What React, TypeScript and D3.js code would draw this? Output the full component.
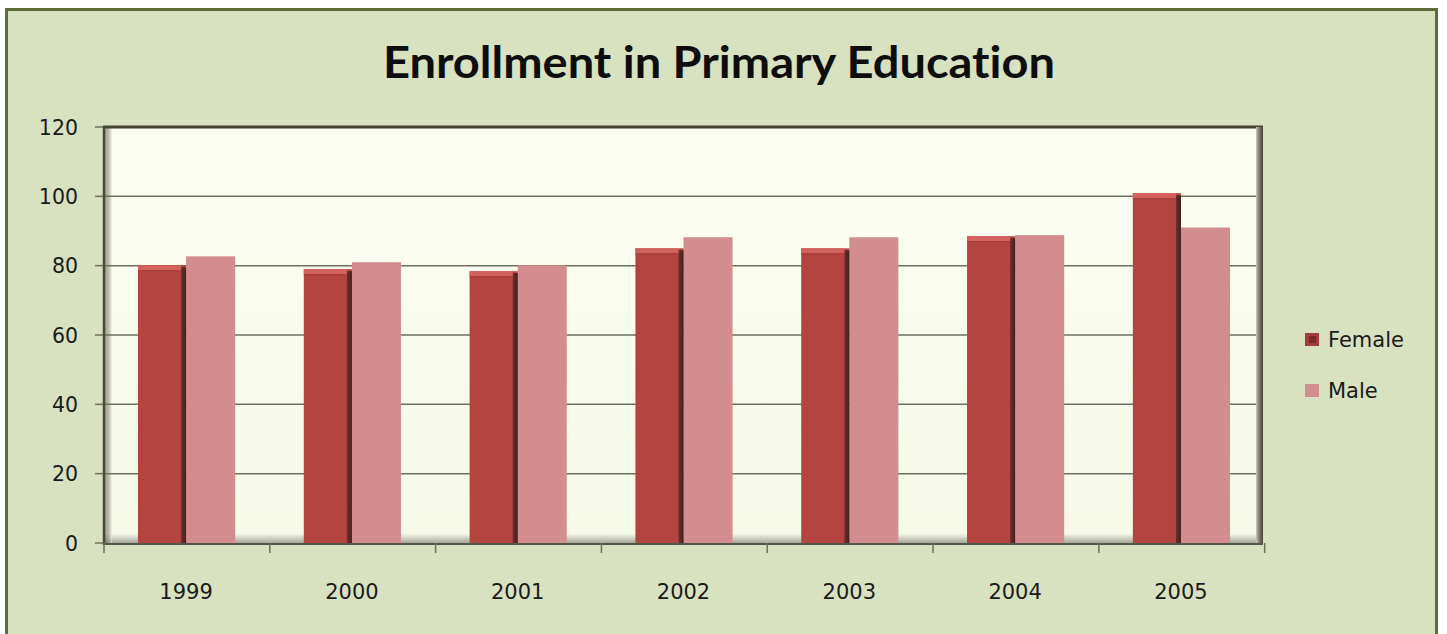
import React from "react";
import * as d3 from "d3";

const years = ["1999", "2000", "2001", "2002", "2003", "2004", "2005"];
const female = [80.1, 79.0, 78.4, 85.0, 85.0, 88.5, 100.9];
const male = [82.7, 81.0, 80.1, 88.2, 88.2, 88.8, 91.0];
const seriesNames = ["Female", "Male"];
const yTicks = [0, 20, 40, 60, 80, 100, 120];
const title = "Enrollment in Primary Education";

const W = 1447;
const H = 634;
const plot = { left: 104, right: 1263, top: 127, bottom: 543 };

export default function App() {
  const x0 = d3
    .scaleBand<string>()
    .domain(years)
    .range([plot.left, plot.right])
    .paddingInner(0.42)
    .paddingOuter(0.205);
  const x1 = d3.scaleBand<string>().domain(seriesNames).range([0, x0.bandwidth()]).padding(0);
  const y = d3.scaleLinear().domain([0, 120]).range([plot.bottom, plot.top]);
  const step = x0.step();
  const boundaries = d3.range(years.length + 1).map((i) => plot.left + i * step);
  const font = "'DejaVu Sans', Verdana, sans-serif";

  return (
    <svg width={W} height={H} style={{ position: "absolute", left: 0, top: 0 }}>
      <defs>
        <linearGradient id="plotBg" x1="0" y1="0" x2="0" y2="1">
          <stop offset="0" stopColor="#fdfef3" />
          <stop offset="1" stopColor="#f5f9e6" />
        </linearGradient>
        <linearGradient id="floor" x1="0" y1="0" x2="0" y2="1">
          <stop offset="0" stopColor="#f4f6ea" />
          <stop offset="1" stopColor="#a3a796" />
        </linearGradient>
        <linearGradient id="rightWall" x1="0" y1="0" x2="1" y2="0">
          <stop offset="0" stopColor="#c9c9c0" />
          <stop offset="0.5" stopColor="#7a766a" />
          <stop offset="1" stopColor="#4a4436" />
        </linearGradient>
        <linearGradient id="leftWall" x1="0" y1="0" x2="1" y2="0">
          <stop offset="0" stopColor="#4a4a36" />
          <stop offset="0.6" stopColor="#8a8c7c" />
          <stop offset="1" stopColor="#eef2dd" />
        </linearGradient>
        <linearGradient id="femaleSide" x1="0" y1="0" x2="1" y2="0">
          <stop offset="0" stopColor="#6e2f2c" />
          <stop offset="1" stopColor="#3e2220" />
        </linearGradient>
      </defs>

      <rect x={0} y={0} width={W} height={H} fill="#ffffff" />
      <rect x={6.5} y={9.5} width={1430} height={640} fill="#d8e2c0" stroke="#5e6e3a" strokeWidth={3} />

      <text
        x={719}
        y={78}
        textAnchor="middle"
        fontFamily="Lato, 'Open Sans', sans-serif"
        fontWeight={700}
        fontSize={44}
        fill="#0d0d0d"
        textLength={672}
        lengthAdjust="spacingAndGlyphs"
        style={{ fontVariantLigatures: "none", fontKerning: "normal" }}
      >
        {title}
      </text>

      {/* plot area */}
      <rect x={plot.left} y={plot.top} width={plot.right - plot.left} height={plot.bottom - plot.top} fill="url(#plotBg)" />
      <rect x={plot.left} y={plot.bottom - 9} width={plot.right - plot.left} height={9} fill="url(#floor)" />
      <rect x={plot.left} y={plot.top} width={8} height={plot.bottom - plot.top} fill="url(#leftWall)" opacity={0.55} />

      {/* gridlines and y ticks */}
      {yTicks.map((t) => (
        <g key={t}>
          {t > 0 && t < 120 && (
            <line x1={plot.left} x2={plot.right - 6} y1={y(t)} y2={y(t)} stroke="#6c715c" strokeWidth={1.5} />
          )}
          <line x1={95} x2={plot.left} y1={y(t)} y2={y(t)} stroke="#6c715c" strokeWidth={1.5} />
          <text x={78} y={y(t) + 7.5} textAnchor="end" fontFamily={font} fontSize={20.5} fill="#1a1a1a">
            {t}
          </text>
        </g>
      ))}

      {/* bars */}
      {years.map((yr, i) => {
        const gx = x0(yr) as number;
        const fx = gx + (x1("Female") as number);
        const mx = gx + (x1("Male") as number);
        const bw = x1.bandwidth();
        const fy = y(female[i]);
        const my = y(male[i]);
        return (
          <g key={yr}>
            <rect x={mx} y={my} width={bw + 1} height={plot.bottom - my} fill="#d48d8f" />
            <rect x={fx} y={fy} width={bw} height={plot.bottom - fy} fill="#b4443f" />
            <rect x={fx + bw - 5} y={fy + 2} width={5} height={plot.bottom - fy - 2} fill="url(#femaleSide)" />
            <rect x={fx} y={fy} width={bw - 5} height={5} fill="#d2625c" />
            <rect x={fx} y={fy + 5} width={bw - 5} height={1} fill="#a43a36" />
          </g>
        );
      })}

      {/* frame */}
      <line x1={plot.left - 1} x2={plot.right} y1={plot.top} y2={plot.top} stroke="#434330" strokeWidth={3} />
      <line x1={plot.left} x2={plot.left} y1={plot.top} y2={plot.bottom + 2} stroke="#4a4a36" strokeWidth={2.5} />
      <rect x={plot.right - 7} y={plot.top} width={7} height={plot.bottom - plot.top + 2} fill="url(#rightWall)" />
      <line x1={plot.left} x2={plot.right} y1={plot.bottom + 1} y2={plot.bottom + 1} stroke="#55574a" strokeWidth={2} />

      {/* x ticks */}
      {boundaries.map((bx, i) => (
        <line key={i} x1={bx} x2={bx} y1={plot.bottom} y2={plot.bottom + 10} stroke="#6c715c" strokeWidth={1.5} />
      ))}
      {years.map((yr) => (
        <text
          key={yr}
          x={(x0(yr) as number) + x0.bandwidth() / 2}
          y={599}
          textAnchor="middle"
          fontFamily={font}
          fontSize={21}
          fill="#1a1a1a"
        >
          {yr}
        </text>
      ))}

      {/* legend */}
      {seriesNames.map((s, i) => (
        <g key={s} transform={`translate(1305, ${333 + i * 51})`}>
          <rect x={0} y={0} width={14} height={13} fill={i === 0 ? "#a23d3a" : "#d48d8f"} />
          {i === 0 && <rect x={4} y={3} width={7} height={7} fill="#7a2b29" />}
          <text x={23} y={14} fontFamily={font} fontSize={21} fill="#1a1a1a">
            {s}
          </text>
        </g>
      ))}
    </svg>
  );
}
